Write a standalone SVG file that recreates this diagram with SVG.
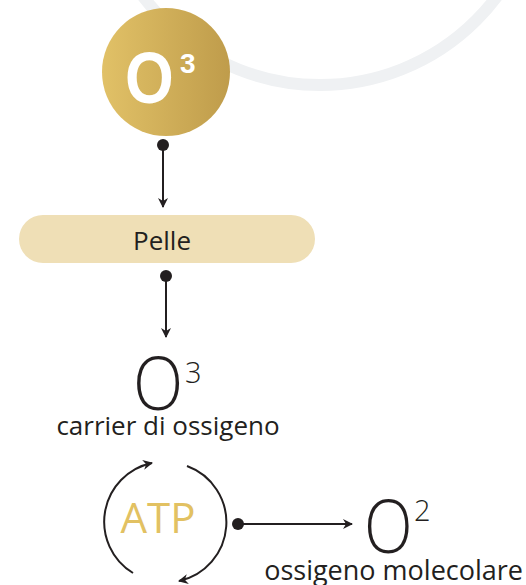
<svg xmlns="http://www.w3.org/2000/svg" width="526" height="585" viewBox="0 0 526 585">
<defs>
<linearGradient id="gold" x1="0" y1="0" x2="1" y2="0">
<stop offset="0" stop-color="#e1c167"/>
<stop offset="1" stop-color="#bf9c4b"/>
</linearGradient>
<marker id="arr" viewBox="0 0 10 10" refX="9" refY="5" markerWidth="10" markerHeight="10" markerUnits="userSpaceOnUse" orient="auto">
<path d="M0,0 L10,5 L0,10 L3,5 Z" fill="#231f20"/>
</marker>
<marker id="dot" viewBox="0 0 10 10" refX="5" refY="5" markerWidth="12" markerHeight="12" markerUnits="userSpaceOnUse">
<circle cx="5" cy="5" r="5" fill="#231f20"/>
</marker>
</defs>
<style>
.txt{font-family:"Open Sans","Noto Sans","Liberation Sans",sans-serif;fill:#231f20}
.lt{font-weight:300}
.conn{stroke:#231f20;stroke-width:2;fill:none}
</style>
<circle cx="320" cy="-136" r="221" fill="none" stroke="#eff1f3" stroke-width="12"/>
<g id="o3-top">
<circle cx="166" cy="72" r="64" fill="url(#gold)"/>
<text transform="translate(125,103) scale(0.87,1)" font-family="'Liberation Sans',Arial,sans-serif" font-weight="bold" font-size="72" fill="#ffffff">O</text>
<text x="180" y="73" font-family="'Liberation Sans',Arial,sans-serif" font-weight="bold" font-size="28" fill="#ffffff">3</text>
</g>
<g id="pelle">
<rect x="19" y="215" width="296" height="48" rx="24" fill="#efdfb6"/>
<text class="txt" x="162" y="250" font-size="26" text-anchor="middle">Pelle</text>
</g>
<g id="o3-carrier">
<text class="txt lt" transform="translate(133,410) scale(0.9,1)" font-size="73">O</text>
<text class="txt lt" x="185" y="383" font-size="29">3</text>
<text class="txt" x="168" y="435" font-size="26" text-anchor="middle">carrier di ossigeno</text>
</g>
<g id="atp">
<text x="158" y="533" font-family="'Open Sans','Noto Sans',sans-serif" font-size="42" fill="#e2c162" text-anchor="middle">ATP</text>
</g>
<g id="o2">
<text class="txt lt" transform="translate(364,553) scale(0.86,1)" font-size="74">O</text>
<text class="txt lt" x="414" y="521" font-size="29">2</text>
<text class="txt" x="523" y="580" font-size="27" text-anchor="end">ossigeno molecolare</text>
</g>
<g id="connectors">
<line class="conn" x1="163" y1="145" x2="163" y2="207" marker-start="url(#dot)" marker-end="url(#arr)"/>
<line class="conn" x1="166" y1="276" x2="166" y2="337" marker-start="url(#dot)" marker-end="url(#arr)"/>
<path class="conn" d="M133,573 A60,60 0 0 1 152,463" marker-end="url(#arr)"/>
<path class="conn" d="M187,466 A60,60 0 0 1 179,581" marker-end="url(#arr)"/>
<line class="conn" x1="238" y1="524" x2="352" y2="524" marker-start="url(#dot)" marker-end="url(#arr)"/>
</g>
</svg>
